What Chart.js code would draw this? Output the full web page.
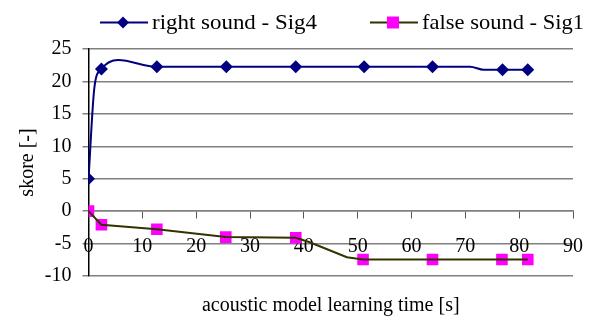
<!DOCTYPE html>
<html>
<head>
<meta charset="utf-8">
<script src="https://cdn.jsdelivr.net/npm/chart.js@4/dist/chart.umd.min.js"></script>
<style>
  html, body { margin: 0; padding: 0; background: #ffffff; }
  #wrap { width: 592px; height: 318px; position: relative; }
</style>
</head>
<body>
<div id="wrap"><canvas id="c" width="592" height="318"></canvas></div>
<script>
// ---- data ----
const seriesNames = ['right sound - Sig4', 'false sound - Sig1'];

// marker points
const rightTimes  = [0, 2.4, 12.7, 25.6, 38.5, 51.2, 63.9, 76.9, 81.6];
const rightScores = [5, 21.9, 22.25, 22.25, 22.25, 22.25, 22.25, 21.8, 21.8];
const falseTimes  = [0, 2.4, 12.7, 25.5, 38.5, 51.0, 63.9, 76.8, 81.6];
const falseScores = [0, -2.1, -2.8, -4.0, -4.1, -7.45, -7.45, -7.45, -7.45];

// extra points the drawn curves pass through (no marker)
const rightCurveTimes  = [1.1, 5.5, 70.9, 73.4];
const rightCurveScores = [19.1, 23.3, 22.25, 21.8];
const falseCurveTimes  = [41.1, 48.0];
const falseCurveScores = [-4.8, -7.1];

// axis ticks
const xTicks = [0, 10, 20, 30, 40, 50, 60, 70, 80, 90];
const yTicks = [-10, -5, 0, 5, 10, 15, 20, 25];

const xTitle = 'acoustic model learning time [s]';
const yTitle = 'skore [-]';

// ---- build ----
function pts(xs, ys) { return xs.map((x, i) => ({ x: x, y: ys[i] })); }
function merged(xs, ys, cx, cy) {
  return pts(xs, ys).concat(pts(cx, cy)).sort((a, b) => a.x - b.x);
}

const NAVY = '#000080';
const OLIVE = '#333300';
const MAGENTA = '#ff00ff';
const FONT = 'Liberation Serif, "Times New Roman", serif';

const legendPlugin = {
  id: 'customLegend',
  afterDraw(chart) {
    const ctx = chart.ctx;
    const items = [
      { name: seriesNames[0], line: NAVY, marker: 'diamond', x: 100, w: 165 },
      { name: seriesNames[1], line: OLIVE, marker: 'square', x: 370, w: 162 }
    ];
    const cy = 22.5;
    ctx.save();
    items.forEach(it => {
      ctx.strokeStyle = it.line;
      ctx.lineWidth = 2;
      ctx.beginPath();
      ctx.moveTo(it.x, cy);
      ctx.lineTo(it.x + 48, cy);
      ctx.stroke();
      const mx = it.x + 23;
      if (it.marker === 'diamond') {
        ctx.fillStyle = NAVY;
        ctx.beginPath();
        ctx.moveTo(mx, cy - 6);
        ctx.lineTo(mx + 6, cy);
        ctx.lineTo(mx, cy + 6);
        ctx.lineTo(mx - 6, cy);
        ctx.closePath();
        ctx.fill();
      } else {
        ctx.fillStyle = MAGENTA;
        ctx.fillRect(mx - 6, cy - 6, 12, 12);
      }
      ctx.fillStyle = '#000000';
      ctx.font = '21px ' + FONT;
      ctx.textBaseline = 'middle';
      ctx.textAlign = 'left';
      const tw = ctx.measureText(it.name).width;
      const sx = it.w / tw;
      ctx.save();
      ctx.translate(it.x + 52, cy + 1);
      ctx.scale(sx, 1);
      ctx.fillText(it.name, 0, 0);
      ctx.restore();
    });
    ctx.restore();
  }
};

new Chart(document.getElementById('c'), {
  type: 'line',
  data: {
    datasets: [
      {
        label: seriesNames[0] + ' line',
        data: merged(rightTimes, rightScores, rightCurveTimes, rightCurveScores),
        borderColor: NAVY, borderWidth: 2, pointRadius: 0,
        cubicInterpolationMode: 'monotone', fill: false
      },
      {
        label: seriesNames[0],
        data: pts(rightTimes, rightScores),
        showLine: false, pointStyle: 'rectRot', pointRadius: 6.5,
        pointBackgroundColor: NAVY, pointBorderColor: NAVY, pointBorderWidth: 0
      },
      {
        label: seriesNames[1] + ' line',
        data: merged(falseTimes, falseScores, falseCurveTimes, falseCurveScores),
        borderColor: OLIVE, borderWidth: 2, pointRadius: 0, tension: 0, fill: false
      },
      {
        label: seriesNames[1],
        data: pts(falseTimes, falseScores),
        showLine: false, pointStyle: 'rect', pointRadius: 8.2,
        pointBackgroundColor: MAGENTA, pointBorderColor: MAGENTA, pointBorderWidth: 0
      }
    ]
  },
  options: {
    responsive: false,
    animation: false,
    devicePixelRatio: 1,
    layout: { padding: { top: 49, right: 19, bottom: 0, left: 0 } },
    plugins: { legend: { display: false }, tooltip: { enabled: false } },
    scales: {
      x: {
        type: 'linear',
        position: { y: 0 },
        min: 0, max: 90,
        afterBuildTicks: s => { s.ticks = xTicks.map(v => ({ value: v })); },
        afterFit: s => { s.paddingLeft = 0; s.paddingRight = 0; },
        grid: { drawOnChartArea: false, drawTicks: true, tickLength: 7, color: '#555555', lineWidth: 1 },
        border: { display: true, color: '#808080', width: 1.5 },
        ticks: { color: '#000000', font: { family: FONT, size: 20 }, padding: 17, maxRotation: 0, autoSkip: false }
      },
      x2: {
        type: 'linear',
        position: 'bottom',
        min: 0, max: 90,
        afterFit: s => { s.paddingLeft = 0; s.paddingRight = 0; },
        grid: { display: false, drawTicks: false },
        border: { display: false },
        ticks: { display: false },
        title: { display: true, text: xTitle, color: '#000000', font: { family: FONT, size: 20 }, padding: { top: 18, bottom: 0 } }
      },
      y: {
        type: 'linear',
        position: 'left',
        min: -10, max: 25,
        afterBuildTicks: s => { s.ticks = yTicks.map(v => ({ value: v })); },
        afterFit: s => { s.width = 88.5; s.paddingTop = 0; s.paddingBottom = 0; },
        grid: { color: '#808080', lineWidth: 1.5, tickLength: 6, drawTicks: true },
        border: { display: true, color: '#000000', width: 1.5 },
        ticks: { color: '#000000', font: { family: FONT, size: 20 }, padding: 11 },
        title: { display: true, text: yTitle, color: '#000000', font: { family: FONT, size: 20 }, padding: { top: 16, bottom: 3 } }
      }
    }
  },
  plugins: [legendPlugin]
});
</script>
</body>
</html>
